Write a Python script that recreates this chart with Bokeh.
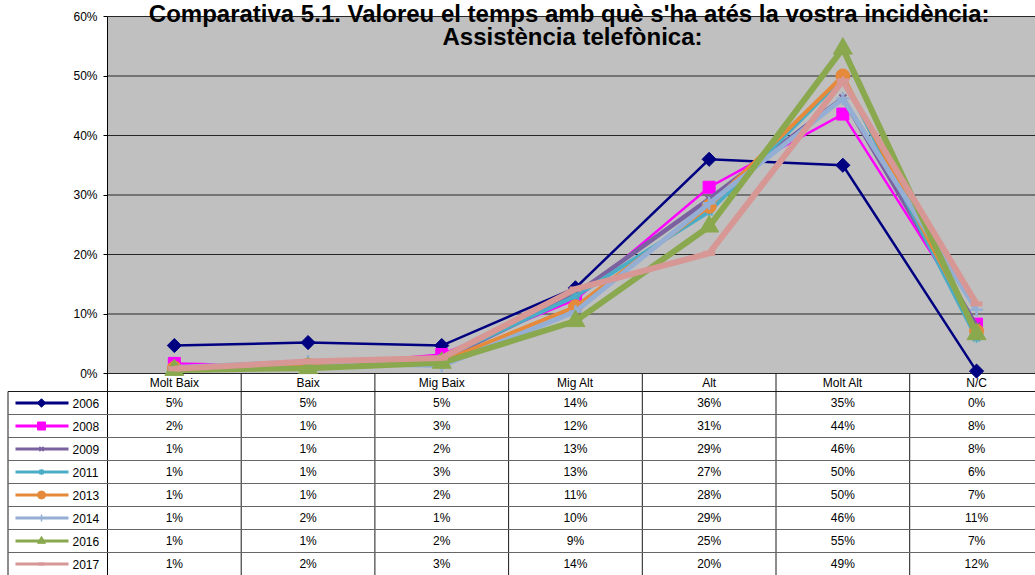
import math
from bokeh.plotting import figure
from bokeh.models import Range1d, FixedTicker, PrintfTickFormatter
from bokeh.core.properties import value
from bokeh.embed import file_html
from bokeh.resources import INLINE

# ---------------- data ----------------
categories = ["Molt Baix", "Baix", "Mig Baix", "Mig Alt", "Alt", "Molt Alt", "N/C"]
years = ["2006", "2008", "2009", "2011", "2013", "2014", "2016", "2017"]
v2006 = [4.7, 5.2, 4.7, 14.4, 36.0, 35.0, 0.4]
v2008 = [1.7, 1.2, 3.2, 12.4, 31.3, 43.6, 8.3]
v2009 = [0.8, 0.8, 2.3, 13.3, 29.3, 46.3, 8.0]
v2011 = [1.0, 1.3, 2.6, 13.0, 27.2, 49.7, 6.0]
v2013 = [0.9, 1.4, 2.0, 11.2, 28.1, 50.0, 7.1]
v2014 = [1.0, 2.0, 1.3, 10.4, 28.6, 46.2, 10.7]
v2016 = [0.6, 0.9, 1.8, 8.8, 24.7, 54.6, 6.6]
v2017 = [0.8, 2.0, 2.6, 14.2, 20.2, 49.2, 11.7]
series = [v2006, v2008, v2009, v2011, v2013, v2014, v2016, v2017]
y_ticks = [0, 10, 20, 30, 40, 50, 60]
title_lines = ["Comparativa  5.1. Valoreu el temps amb què s'ha atés la vostra incidència:",
               "Assistència telefònica:"]

# ---------------- styles ----------------
colors = ["#000080", "#FF00FF", "#7B61A0", "#4BACC6", "#E5893B", "#94AED4", "#8AA84E", "#D69795"]
widths = [2.5, 2.5, 4.5, 4, 4, 5, 6, 6]
markers = ["square", "square", "x", "asterisk", "circle", "cross", "triangle", "dash"]
angles = [math.pi / 4, 0, 0, 0, 0, 0, 0, 0]
msizes = [10, 12, 10, 10, 14, 13, 19, 12]
mline = [1, 1, 2, 2, 1, 2.5, 1, 5]
lg_sizes = [6, 8, 6, 6, 8, 7, 8, 6]
lg_mline = [1, 1, 1.5, 1.5, 1, 1.5, 1, 3]

FONT = "Liberation Sans"
W, H = 1035, 575
LEFT, TOP = 107, 16          # plot-area left / top (px)
ZERO_PY = 373                # pixel row of the 0% line
CAT_W = 133.7                # px per category
PX_PCT = (ZERO_PY - TOP) / 60.0
HDR_B = 391                  # bottom of the table header row
ROW_PX = 23
NR = len(years)


def ypct(py):
    return (ZERO_PY - py) / PX_PCT


def xcat(px):
    return (px - LEFT) / CAT_W


XSTART, XEND = xcat(0), xcat(W)
YSTART, YEND = ypct(H), ypct(0)
xs = [i + 0.5 for i in range(len(categories))]
row_bounds = [ypct(HDR_B + ROW_PX * k) for k in range(NR)]
row_centers = [ypct(HDR_B + ROW_PX * (r + 0.5)) for r in range(NR)]

p = figure(width=W, height=H, x_range=Range1d(XSTART, XEND), y_range=Range1d(YSTART, YEND),
           output_backend="svg", toolbar_location=None, x_axis_location=None,
           min_border_left=0, min_border_right=0, min_border_top=0, min_border_bottom=0,
           background_fill_color="white", border_fill_color="white", outline_line_color=None)

# y axis drawn at the plot-area edge (x = 0)
p.yaxis.fixed_location = 0
p.yaxis.ticker = FixedTicker(ticks=y_ticks)
p.yaxis.formatter = PrintfTickFormatter(format="%d%%")
p.yaxis.major_label_text_font = FONT
p.yaxis.major_label_text_font_size = "12px"
p.yaxis.major_label_text_color = "black"
p.yaxis.axis_line_color = None
p.yaxis.major_tick_line_color = "black"
p.yaxis.major_tick_out = 4
p.yaxis.major_tick_in = 0
p.yaxis.minor_tick_line_color = None
p.yaxis.major_label_standoff = 6
p.xgrid.visible = False
p.ygrid.visible = False

# plot-area background and grid lines
ymin, ymax = min(y_ticks), max(y_ticks)
p.quad(left=[0], right=[XEND], bottom=[ymin], top=[ymax],
       fill_color="#C0C0C0", line_color=None, level="image")
p.segment(x0=[0] * len(y_ticks), y0=y_ticks, x1=[XEND] * len(y_ticks), y1=y_ticks,
          line_color="#262626", line_width=1, level="underlay")
# vertical axis line, continuing down through the data table
p.segment(x0=[0], y0=[ymax], x1=[0], y1=[YSTART], line_color="black", line_width=1)

# ---------------- data table (drawn under the series) ----------------
nb = len(categories)
bx = [float(i) for i in range(1, nb)]
p.segment(x0=bx, y0=[0] * len(bx), x1=bx, y1=[YSTART] * len(bx), line_color="#1a1a1a", line_width=1)
xl = xcat(7.5)
p.segment(x0=[xl], y0=[row_bounds[0]], x1=[xl], y1=[YSTART], line_color="#1a1a1a", line_width=1)
p.segment(x0=[xl], y0=[row_bounds[0]], x1=[XEND], y1=[row_bounds[0]], line_color="#1a1a1a", line_width=1)
p.segment(x0=[xl] * (NR - 1), y0=row_bounds[1:], x1=[XEND] * (NR - 1), y1=row_bounds[1:],
          line_color="#666666", line_width=1)

p.text(x=xs, y=[ypct((ZERO_PY + HDR_B) / 2)] * nb, text=categories, text_font=value(FONT),
       text_font_size="12px", text_align="center", text_baseline="middle", text_color="black")
tx_, ty_, tt_ = [], [], []
for r, vals in enumerate(series):
    for i, v in enumerate(vals):
        tx_.append(xs[i]); ty_.append(row_centers[r]); tt_.append(f"{int(v + 0.5)}%")
p.text(x=tx_, y=ty_, text=tt_, text_font=value(FONT), text_font_size="12px",
       text_align="center", text_baseline="middle", text_color="black")

# series keys + year labels
kx0, kx1, kxm, kxt = xcat(15), xcat(68), xcat(41), xcat(72)
p.segment(x0=[kx0] * NR, y0=row_centers, x1=[kx1] * NR, y1=row_centers, line_color=colors, line_width=3)
for r in range(NR):
    p.scatter([kxm], [row_centers[r]], marker=markers[r], size=lg_sizes[r], angle=angles[r],
              fill_color=colors[r], line_color=colors[r], line_width=lg_mline[r])
p.text(x=[kxt] * NR, y=row_centers, text=years, text_font=value(FONT), text_font_size="12px",
       text_align="left", text_baseline="middle", text_color="black")

# ---------------- series ----------------
for k, vals in enumerate(series):
    p.line(xs, vals, line_color=colors[k], line_width=widths[k], line_join="miter")
    p.scatter(xs, vals, marker=markers[k], size=msizes[k], angle=angles[k],
              fill_color=colors[k], line_color=colors[k], line_width=mline[k])

# ---------------- title ----------------
tx = xcat(572)
p.text(x=[tx, tx], y=[ypct(13), ypct(36)], text=title_lines, text_font=value(FONT),
       text_font_style="bold", text_font_size="24px", text_align="center",
       text_baseline="alphabetic", text_color="black")

open("out.html", "w").write(file_html(p, INLINE))
